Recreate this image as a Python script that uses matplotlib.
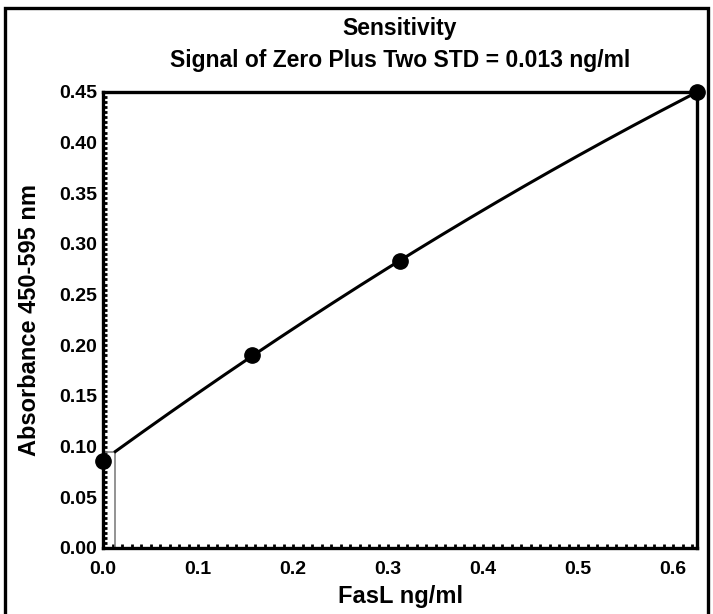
import numpy as np
import matplotlib
matplotlib.use("Agg")
import matplotlib.pyplot as plt
from matplotlib.ticker import MultipleLocator, FormatStrFormatter
from matplotlib.patches import Rectangle

conc = [0.0, 0.15625, 0.3125, 0.625]
absorb = [0.086, 0.190, 0.283, 0.450]
sensitivity = 0.013
xticks = [0.0, 0.1, 0.2, 0.3, 0.4, 0.5, 0.6]
yticks = [0.00, 0.05, 0.10, 0.15, 0.20, 0.25, 0.30, 0.35, 0.40, 0.45]

plt.rcParams['font.family'] = ['Liberation Sans', 'DejaVu Sans']
plt.rcParams['font.weight'] = 'bold'

W, H = 713, 614
fig = plt.figure(figsize=(W / 100, H / 100), dpi=100)
ax = fig.add_axes([103 / W, 1 - 548 / H, (697 - 103) / W, (548 - 92) / H])

# fitted curve (quadratic fit of the standards)
coef = np.polyfit(conc, absorb, 2)
xs = np.linspace(sensitivity, max(conc), 300)
ax.plot(xs, np.polyval(coef, xs), color='black', lw=2.2, zorder=3, clip_on=False)
ysens = np.polyval(coef, sensitivity)
ax.plot([sensitivity, sensitivity], [0, ysens], color='#808080', lw=1.2, zorder=2)
ax.plot([0, sensitivity], [ysens, ysens], color='#808080', lw=1.2, zorder=2)

ax.plot(conc, absorb, 'o', color='black', ms=11, zorder=4, clip_on=False)

ax.set_xlim(0, 0.625)
ax.set_ylim(0, 0.45)
ax.set_xticks(xticks)
ax.set_yticks(yticks)
ax.xaxis.set_major_formatter(FormatStrFormatter('%.1f'))
ax.yaxis.set_major_formatter(FormatStrFormatter('%.2f'))
ax.xaxis.set_minor_locator(MultipleLocator(0.01))
ax.yaxis.set_minor_locator(MultipleLocator(0.005))
ax.tick_params(which='both', direction='in', length=3, width=2, top=False, right=False)
ax.tick_params(axis='x', which='major', labelsize=14, pad=9)
ax.tick_params(axis='y', which='major', labelsize=14, pad=4)
for lab in ax.get_xticklabels() + ax.get_yticklabels():
    lab.set_fontweight('bold')
for s in ax.spines.values():
    s.set_linewidth(2.4)

fig.text(400 / W, 1 - 28 / H, 'Sensitivity', ha='center', va='center',
         fontsize=16.5, fontweight='bold')
fig.text(400 / W, 1 - 60 / H, 'Signal of Zero Plus Two STD = 0.013 ng/ml',
         ha='center', va='center', fontsize=16.5, fontweight='bold')
fig.text(400 / W, 1 - 597 / H, 'FasL ng/ml', ha='center', va='center',
         fontsize=17, fontweight='bold')
fig.text(30 / W, 1 - 320 / H, 'Absorbance 450-595 nm', ha='center', va='center',
         rotation=90, fontsize=17, fontweight='bold')

fig.patches.append(Rectangle((5 / W, -0.05), (708 - 5) / W, 1.05 - 8 / H,
                             transform=fig.transFigure, fill=False,
                             edgecolor='black', lw=2.4))

fig.savefig('out.png', dpi=100)
